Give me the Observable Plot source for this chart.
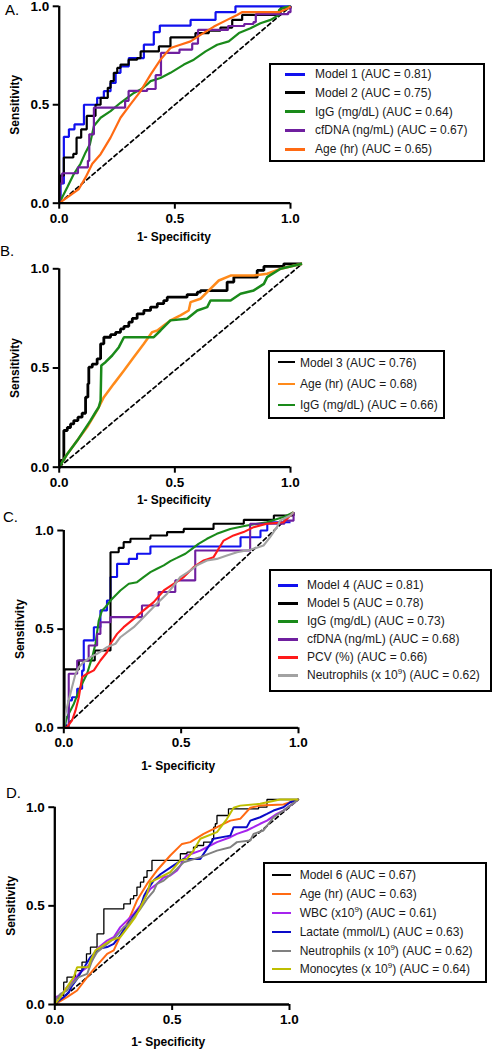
<!DOCTYPE html>
<html>
<head>
<meta charset="utf-8">
<script src="https://cdn.jsdelivr.net/npm/d3@7"></script>
<script src="https://cdn.jsdelivr.net/npm/@observablehq/plot@0.6"></script>
<style>
  body { margin: 0; background: #fff; font-family: "Liberation Sans", Arial, sans-serif; }
  #page { position: relative; width: 494px; height: 1050px; overflow: hidden; background: #fff; }
  .panel { position: absolute; left: 0; }
  .tag { position: absolute; font-size: 15px; line-height: 1; color: #000; }
  .legend { position: absolute; border: 2px solid #000; background: #fff; box-sizing: border-box; }
  .key { position: absolute; height: 0; }
  .lab { position: absolute; font-size: 12px; line-height: 1; color: #1a1a1a; white-space: nowrap; transform: translateY(-50%); }
  .lab sup { font-size: 8px; line-height: 0; vertical-align: 5px; }
</style>
</head>
<body>
<div id="page"></div>
<script>
// ---------- Panel A ----------
const aNames = ["Model 1", "Model 2", "IgG (mg/dL)", "cfDNA (ng/mL)", "Age (hr)"];
const aAuc = [0.81, 0.75, 0.64, 0.67, 0.65];
const aModel1 = [[0,0],[0.006,0.1],[0.02,0.337],[0.042,0.375],[0.066,0.4],[0.107,0.5],[0.164,0.535],[0.193,0.569],[0.222,0.611],[0.244,0.662],[0.265,0.695],[0.301,0.737],[0.366,0.805],[0.409,0.869],[0.435,0.902],[0.568,0.931],[0.676,0.97],[0.762,1.0],[1,1]];
const aModel2 = [[0,0],[0.003,0.14],[0.02,0.232],[0.061,0.25],[0.075,0.333],[0.095,0.375],[0.119,0.443],[0.157,0.5],[0.179,0.535],[0.21,0.586],[0.222,0.62],[0.236,0.662],[0.251,0.687],[0.265,0.704],[0.3,0.729],[0.337,0.737],[0.352,0.771],[0.431,0.796],[0.481,0.842],[0.589,0.864],[0.647,0.876],[0.697,0.892],[0.748,0.931],[0.791,0.956],[0.957,0.99],[1,1]];
const aIgG = [[0,0],[0.013,0.03],[0.035,0.081],[0.063,0.148],[0.092,0.2],[0.114,0.258],[0.133,0.3],[0.15,0.392],[0.179,0.434],[0.222,0.468],[0.265,0.51],[0.294,0.535],[0.323,0.56],[0.352,0.577],[0.38,0.603],[0.395,0.62],[0.438,0.636],[0.481,0.662],[0.539,0.704],[0.582,0.729],[0.633,0.771],[0.683,0.805],[0.733,0.822],[0.777,0.864],[0.827,0.889],[0.87,0.914],[0.914,0.931],[0.95,0.956],[0.95,0.981],[0.971,0.993],[1,1]];
const aCfDNA = [[0,0],[0.003,0.1],[0.013,0.152],[0.081,0.182],[0.124,0.215],[0.13,0.35],[0.15,0.485],[0.285,0.52],[0.3,0.57],[0.38,0.58],[0.417,0.65],[0.44,0.763],[0.52,0.78],[0.575,0.81],[0.6,0.88],[0.73,0.9],[0.8,0.91],[0.84,0.92],[0.85,0.96],[0.99,0.97],[1,1]];
const aAge = [[0,0],[0.035,0.03],[0.085,0.072],[0.114,0.131],[0.143,0.2],[0.179,0.249],[0.222,0.333],[0.265,0.434],[0.308,0.502],[0.352,0.569],[0.395,0.653],[0.438,0.729],[0.481,0.788],[0.524,0.805],[0.568,0.822],[0.611,0.855],[0.669,0.897],[0.726,0.931],[0.769,0.956],[0.79,0.97],[0.95,0.97],[0.99,0.99],[1,1]];
const aChance = [[0,0],[1,1]];

// ---------- Panel B ----------
const bNames = ["Model 3", "Age (hr)", "IgG (mg/dL)"];
const bAuc = [0.76, 0.68, 0.66];
const bModel3 = [[0,0],[0.006,0.034],[0.02,0.185],[0.035,0.2],[0.049,0.218],[0.063,0.235],[0.081,0.252],[0.099,0.272],[0.114,0.353],[0.124,0.42],[0.128,0.504],[0.143,0.52],[0.164,0.546],[0.179,0.622],[0.193,0.655],[0.222,0.668],[0.244,0.68],[0.265,0.697],[0.28,0.71],[0.301,0.731],[0.316,0.75],[0.337,0.773],[0.366,0.79],[0.395,0.807],[0.424,0.824],[0.452,0.84],[0.467,0.857],[0.553,0.87],[0.597,0.882],[0.611,0.89],[0.726,0.933],[0.755,0.958],[0.856,0.992],[0.885,1.012],[0.971,1.025],[1.05,1.025]];
const bAge = [[0,0],[0.035,0.067],[0.078,0.134],[0.121,0.202],[0.164,0.286],[0.193,0.353],[0.236,0.42],[0.28,0.487],[0.323,0.555],[0.366,0.622],[0.402,0.681],[0.424,0.689],[0.452,0.714],[0.481,0.74],[0.524,0.765],[0.56,0.79],[0.568,0.832],[0.611,0.849],[0.647,0.891],[0.69,0.941],[0.741,0.966],[0.841,0.966],[0.899,0.975],[0.957,1.0],[1.05,1.025]];
const bIgG = [[0,0],[0.035,0.067],[0.078,0.134],[0.135,0.235],[0.157,0.277],[0.171,0.303],[0.179,0.336],[0.182,0.513],[0.2,0.529],[0.229,0.563],[0.258,0.605],[0.28,0.655],[0.409,0.655],[0.438,0.689],[0.481,0.74],[0.553,0.748],[0.597,0.79],[0.64,0.807],[0.654,0.84],[0.741,0.84],[0.784,0.874],[0.841,0.891],[0.885,0.924],[0.899,0.958],[0.957,1.0],[1.05,1.025]];
const bChance = [[0,0],[1.05,1.025]];

// ---------- Panel C ----------
const cNames = ["Model 4", "Model 5", "IgG (mg/dL)", "cfDNA (ng/mL)", "PCV (%)", "Neutrophils (x 10^9)"];
const cAuc = [0.81, 0.78, 0.73, 0.68, 0.66, 0.62];
const cModel4 = [[0,0],[0.007,0.054],[0.021,0.139],[0.035,0.155],[0.057,0.198],[0.078,0.29],[0.085,0.443],[0.128,0.51],[0.156,0.595],[0.184,0.645],[0.199,0.764],[0.227,0.831],[0.277,0.856],[0.312,0.882],[0.369,0.919],[0.753,0.966],[0.838,1.0],[0.867,1.042],[0.966,1.042]];
const cModel5 = [[0,0],[0.003,0.296],[0.064,0.341],[0.132,0.392],[0.199,0.89],[0.234,0.912],[0.255,0.941],[0.284,0.958],[0.369,0.975],[0.44,0.992],[0.511,1.008],[0.638,1.034],[0.767,1.054],[0.895,1.076],[0.979,1.093]];
const cIgG = [[0,0],[0.014,0.054],[0.043,0.122],[0.071,0.206],[0.099,0.274],[0.121,0.358],[0.135,0.426],[0.149,0.544],[0.163,0.595],[0.177,0.611],[0.199,0.645],[0.22,0.671],[0.241,0.696],[0.277,0.73],[0.312,0.738],[0.34,0.764],[0.369,0.789],[0.397,0.806],[0.426,0.823],[0.454,0.845],[0.482,0.861],[0.518,0.882],[0.546,0.907],[0.574,0.932],[0.61,0.958],[0.652,0.983],[0.709,1.008],[0.78,1.025],[0.865,1.042],[0.936,1.068],[0.979,1.093]];
const cCfDNA = [[0,0],[0.021,0.274],[0.057,0.341],[0.106,0.417],[0.142,0.476],[0.156,0.535],[0.199,0.561],[0.333,0.62],[0.404,0.688],[0.475,0.747],[0.56,0.899],[0.794,1.034],[0.94,1.05],[0.979,1.093]];
const cPCV = [[0,0],[0.014,0.003],[0.035,0.037],[0.05,0.088],[0.064,0.155],[0.078,0.257],[0.099,0.274],[0.128,0.291],[0.156,0.341],[0.184,0.383],[0.199,0.426],[0.227,0.476],[0.255,0.51],[0.298,0.552],[0.34,0.595],[0.383,0.637],[0.426,0.696],[0.468,0.73],[0.511,0.764],[0.553,0.814],[0.596,0.848],[0.638,0.865],[0.681,0.949],[0.723,0.975],[0.766,0.992],[0.809,1.017],[0.865,1.034],[0.936,1.042],[0.979,1.093]];
const cNeutro = [[0,0],[0.007,0.071],[0.021,0.139],[0.035,0.206],[0.05,0.274],[0.064,0.307],[0.085,0.333],[0.113,0.358],[0.142,0.375],[0.184,0.409],[0.22,0.426],[0.241,0.459],[0.298,0.51],[0.34,0.56],[0.397,0.63],[0.44,0.68],[0.468,0.72],[0.496,0.764],[0.539,0.797],[0.567,0.823],[0.61,0.848],[0.652,0.856],[0.695,0.873],[0.738,0.89],[0.794,0.902],[0.851,0.924],[0.879,0.966],[0.908,1.017],[0.922,1.051],[0.965,1.076],[0.979,1.093]];
const cChance = [[0,0],[0.979,1.093]];

// ---------- Panel D ----------
const dNames = ["Model 6", "Age (hr)", "WBC (x10^9)", "Lactate (mmol/L)", "Neutrophils (x 10^9)", "Monocytes (x 10^9)"];
const dAuc = [0.67, 0.63, 0.61, 0.63, 0.62, 0.64];
const dModel6 = [[0,0],[0.01,0.02],[0.017,0.046],[0.038,0.113],[0.052,0.139],[0.088,0.172],[0.116,0.215],[0.135,0.257],[0.152,0.291],[0.18,0.358],[0.209,0.375],[0.209,0.485],[0.294,0.51],[0.322,0.535],[0.336,0.552],[0.35,0.595],[0.365,0.62],[0.379,0.645],[0.393,0.679],[0.414,0.73],[0.535,0.764],[0.563,0.772],[0.591,0.797],[0.606,0.806],[0.634,0.823],[0.67,0.84],[0.677,0.899],[0.684,0.916],[0.691,0.958],[0.74,0.992],[0.868,1.0],[0.904,1.039],[1.038,1.039]];
const dAge = [[0,0],[0.052,0.037],[0.095,0.071],[0.138,0.139],[0.18,0.198],[0.223,0.257],[0.251,0.274],[0.277,0.341],[0.308,0.409],[0.35,0.527],[0.393,0.611],[0.435,0.679],[0.492,0.755],[0.542,0.814],[0.577,0.823],[0.634,0.865],[0.677,0.89],[0.719,0.916],[0.748,0.932],[0.79,0.941],[0.833,0.997],[0.875,1.008],[0.974,1.014],[1.038,1.039]];
const dWBC = [[0,0],[0.003,0.037],[0.03,0.05],[0.052,0.088],[0.081,0.122],[0.109,0.164],[0.138,0.189],[0.159,0.223],[0.18,0.282],[0.223,0.324],[0.251,0.341],[0.279,0.392],[0.308,0.426],[0.336,0.459],[0.365,0.502],[0.393,0.561],[0.407,0.586],[0.435,0.611],[0.464,0.645],[0.492,0.654],[0.521,0.679],[0.535,0.704],[0.549,0.738],[0.563,0.755],[0.62,0.78],[0.648,0.797],[0.691,0.823],[0.748,0.848],[0.776,0.865],[0.818,0.882],[0.847,0.899],[0.875,0.916],[0.904,0.932],[0.946,0.966],[0.974,0.983],[1.003,1.008],[1.038,1.039]];
const dLactate = [[0,0],[0.017,0.02],[0.038,0.037],[0.06,0.063],[0.074,0.096],[0.095,0.13],[0.116,0.172],[0.13,0.198],[0.152,0.24],[0.173,0.265],[0.187,0.282],[0.223,0.291],[0.251,0.307],[0.279,0.35],[0.301,0.392],[0.322,0.426],[0.336,0.451],[0.365,0.493],[0.38,0.55],[0.393,0.578],[0.421,0.628],[0.45,0.66],[0.5,0.7],[0.549,0.738],[0.62,0.738],[0.677,0.84],[0.748,0.856],[0.762,0.899],[0.818,0.899],[0.833,0.932],[0.875,0.949],[0.904,0.966],[0.932,0.983],[0.974,1.0],[1.003,1.025],[1.038,1.039]];
const dNeutro = [[0,0],[0.003,0.02],[0.024,0.054],[0.052,0.071],[0.074,0.105],[0.102,0.139],[0.138,0.155],[0.159,0.223],[0.18,0.265],[0.223,0.307],[0.258,0.341],[0.294,0.392],[0.315,0.409],[0.336,0.443],[0.365,0.485],[0.393,0.535],[0.421,0.575],[0.435,0.611],[0.464,0.628],[0.506,0.671],[0.549,0.721],[0.62,0.747],[0.691,0.78],[0.748,0.797],[0.776,0.823],[0.833,0.831],[0.847,0.865],[0.889,0.882],[0.932,0.949],[0.974,0.983],[1.003,1.008],[1.038,1.039]];
const dMono = [[0,0],[0.024,0.037],[0.052,0.088],[0.081,0.139],[0.095,0.189],[0.145,0.189],[0.152,0.223],[0.173,0.274],[0.194,0.29],[0.237,0.324],[0.279,0.341],[0.322,0.409],[0.343,0.443],[0.365,0.493],[0.393,0.561],[0.407,0.62],[0.45,0.645],[0.492,0.671],[0.535,0.73],[0.563,0.738],[0.591,0.78],[0.62,0.84],[0.691,0.874],[0.733,0.94],[0.762,0.997],[0.79,1.008],[0.875,1.017],[0.96,1.039],[1.038,1.039]];
const dChance = [[0,0],[1.038,1.039]];

const page = document.getElementById("page");
const FONT = '"Liberation Sans", Arial, sans-serif';

// One ROC panel: staircase / smooth curves, dashed chance line, Prism-style axes.
function rocPanel(cfg) {
  const {top, mt, ml, mr, ih, mb, series, chance, xLabelDy, xLabelDx} = cfg;
  const P = d => d[0], Q = d => d[1];
  const plot = Plot.plot({
    width: 494,
    height: mt + ih + mb,
    marginTop: mt, marginBottom: mb, marginLeft: ml, marginRight: mr,
    x: {domain: [0, 1]},
    y: {domain: [0, 1]},
    style: {background: "transparent", fontFamily: FONT, overflow: "visible", color: "#000"},
    marks: [
      Plot.line(chance, {x: P, y: Q, stroke: "#000", strokeWidth: 1.7, strokeDasharray: "4,3.2"}),
      ...series.map(s => Plot.line(s.data, {
        x: P, y: Q, stroke: s.color, strokeWidth: s.width,
        curve: s.step ? "step-after" : "linear", strokeLinejoin: "miter", strokeLinecap: "butt"
      })),
      Plot.ruleX([0], {y1: 0, y2: 1, stroke: "#000", strokeWidth: 2.3}),
      Plot.ruleY([0], {x1: 0, x2: 1, stroke: "#000", strokeWidth: 2.3}),
      Plot.axisX({ticks: [0, 0.5, 1], tickFormat: d3.format(".1f"), tickSize: 6, tickPadding: 4,
        strokeWidth: 2, fontSize: 13.5, fontWeight: "bold", label: null}),
      Plot.axisY({ticks: [0, 0.5, 1], tickFormat: d3.format(".1f"), tickSize: 6, tickPadding: 4,
        strokeWidth: 2, fontSize: 13.5, fontWeight: "bold", label: null}),
      Plot.text(["1- Specificity"], {text: d => d, frameAnchor: "bottom", dy: xLabelDy, dx: xLabelDx,
        fontSize: 12, fontWeight: "bold", lineAnchor: "middle"}),
      Plot.text(["Sensitivity"], {text: d => d, frameAnchor: "left", dx: -44, rotate: -90,
        fontSize: 12, fontWeight: "bold", textAnchor: "middle", lineAnchor: "middle"})
    ]
  });
  plot.classList.add("panel");
  plot.style.top = top + "px";
  page.appendChild(plot);
}

function tag(text, left, top) {
  const el = document.createElement("div");
  el.className = "tag";
  el.textContent = text;
  el.style.left = left + "px";
  el.style.top = top + "px";
  page.appendChild(el);
}

function legend(cfg) {
  const {left, top, width, height, first, step, keyX, keyW, keyT, textX, names, aucs, colors} = cfg;
  const box = document.createElement("div");
  box.className = "legend";
  Object.assign(box.style, {left: left + "px", top: top + "px", width: width + "px", height: height + "px"});
  names.forEach((name, i) => {
    const cy = first + i * step - 2;
    const key = document.createElement("div");
    key.className = "key";
    Object.assign(key.style, {left: keyX + "px", top: (cy - keyT / 2) + "px", width: keyW + "px",
      borderTop: `${keyT}px solid ${colors[i]}`});
    const lab = document.createElement("div");
    lab.className = "lab";
    lab.style.left = textX + "px";
    lab.style.top = cy + "px";
    lab.innerHTML = `${name.replace(/\^(\d+)/, "<sup>$1</sup>")} (AUC = ${aucs[i].toFixed(2)})`;
    box.appendChild(key);
    box.appendChild(lab);
  });
  page.appendChild(box);
}

// Colours
const BLUE = "#1111ee", BLACK = "#000000", GREEN = "#1a8a1a", PURPLE = "#6f1f9f", ORANGE = "#ff6a13";
const ORANGE_B = "#ff8a1a", RED = "#ff1a1a", LGRAY = "#a2a2a2", VIOLET = "#a624ee", NAVY = "#0a0ac8", DGRAY = "#808080", OLIVE = "#bebe00";

// Panel A
rocPanel({top: 0, mt: 5.8, ih: 196.9, mb: 45, ml: 58.7, mr: 204, xLabelDy: 34, xLabelDx: -1,
  chance: aChance,
  series: [
    {data: aModel1, color: BLUE, width: 2.2, step: true},
    {data: aModel2, color: BLACK, width: 2.2, step: true},
    {data: aIgG, color: GREEN, width: 2.2},
    {data: aCfDNA, color: PURPLE, width: 2.2, step: true},
    {data: aAge, color: ORANGE, width: 2.2}
  ]});
legend({left: 269, top: 63, width: 216, height: 99, first: 11, step: 18.75, keyX: 14, keyW: 20, keyT: 3,
  textX: 44, names: aNames, aucs: aAuc, colors: [BLUE, BLACK, GREEN, PURPLE, ORANGE]});
tag("A.", 5, 2);

// Panel B
rocPanel({top: 230, mt: 38.3, ih: 198.4, mb: 45, ml: 58.7, mr: 204, xLabelDy: 33, xLabelDx: -1,
  chance: bChance,
  series: [
    {data: bModel3, color: BLACK, width: 2.8, step: true},
    {data: bAge, color: ORANGE_B, width: 2.5},
    {data: bIgG, color: GREEN, width: 2.5}
  ]});
legend({left: 268, top: 350, width: 177, height: 69, first: 12.7, step: 21.2, keyX: 8, keyW: 17, keyT: 2.5,
  textX: 30, names: bNames, aucs: bAuc, colors: [BLACK, ORANGE_B, GREEN]});
tag("B.", 0, 243);

// Panel C
rocPanel({top: 505, mt: 25, ih: 197.3, mb: 50, ml: 63.3, mr: 196, xLabelDy: 38, xLabelDx: -3,
  chance: cChance,
  series: [
    {data: cModel4, color: BLUE, width: 2.1, step: true},
    {data: cModel5, color: BLACK, width: 2.1, step: true},
    {data: cIgG, color: GREEN, width: 2.1},
    {data: cCfDNA, color: PURPLE, width: 2.1, step: true},
    {data: cPCV, color: RED, width: 2.1},
    {data: cNeutro, color: LGRAY, width: 2.1}
  ]});
legend({left: 269, top: 569, width: 223, height: 123, first: 16, step: 18, keyX: 6.5, keyW: 20, keyT: 3,
  textX: 36, names: cNames, aucs: cAuc, colors: [BLUE, BLACK, GREEN, PURPLE, RED, LGRAY]});
tag("C.", 3, 509);

// Panel D
rocPanel({top: 780, mt: 26.7, ih: 197.3, mb: 46, ml: 54.3, mr: 205, xLabelDy: 38, xLabelDx: -4,
  chance: dChance,
  series: [
    {data: dModel6, color: BLACK, width: 1.3, step: true},
    {data: dAge, color: ORANGE, width: 2},
    {data: dWBC, color: VIOLET, width: 2},
    {data: dLactate, color: NAVY, width: 2},
    {data: dNeutro, color: DGRAY, width: 2},
    {data: dMono, color: OLIVE, width: 2}
  ]});
legend({left: 262.7, top: 861.7, width: 224, height: 121, first: 13.3, step: 18.9, keyX: 7, keyW: 19.7, keyT: 2,
  textX: 35, names: dNames, aucs: dAuc, colors: [BLACK, ORANGE, VIOLET, NAVY, DGRAY, OLIVE]});
tag("D.", 6, 785);
</script>
</body>
</html>
